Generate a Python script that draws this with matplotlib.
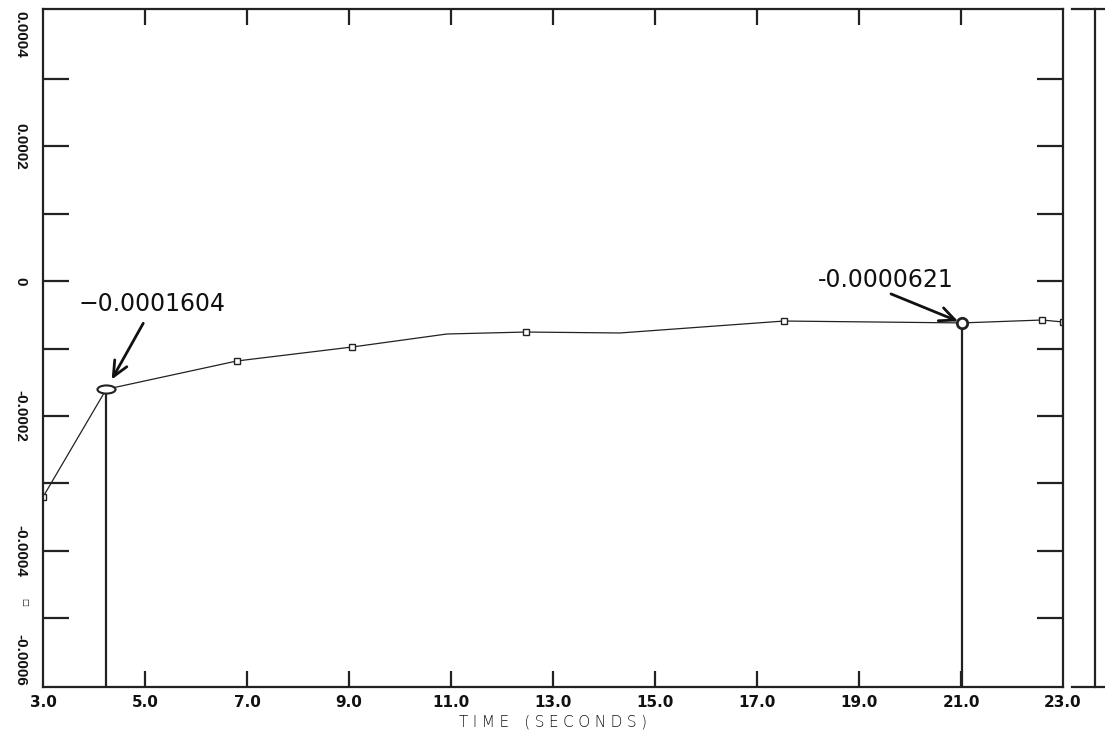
import matplotlib
matplotlib.use("Agg")
import matplotlib.pyplot as plt
from matplotlib.lines import Line2D
from matplotlib.markers import MarkerStyle
from matplotlib.path import Path
from matplotlib.transforms import Affine2D

# response samples over time
time_s = [3.0, 4.24, 6.80, 9.06, 10.92, 12.47, 14.31, 17.53, 21.02, 22.59, 23.0]
response = [-0.000320, -0.0001604, -0.0001185, -0.0000978, -0.0000785, -0.0000756,
            -0.000077, -0.0000593, -0.0000621, -0.0000578, -0.0000607]
marked = [0, 2, 3, 5, 7, 9, 10]      # samples drawn with a square symbol
picked = [1, 8]                       # cursor read-outs
picked_text = ["\u22120.0001604", "-0.0000621"]

x_ticks = [3, 5, 7, 9, 11, 13, 15, 17, 19, 21, 23]
x_tick_labels = ["3.0", "5.0", "7.0", "9.0", "11.0", "13.0", "15.0", "17.0", "19.0", "21.0", "23.0"]
y_ticks = [0.0004, 0.0003, 0.0002, 0.0001, 0.0, -0.0001, -0.0002, -0.0003, -0.0004, -0.0005, -0.0006]
y_tick_labels = ["0.0004", "", "0.0002", "", "0", "", "-0.0002", "", "-0.0004", "", "-0.0006"]

ink = "#222222"
W, H = 1105, 735
fig = plt.figure(figsize=(W / 100, H / 100), dpi=100)
ax = fig.add_axes([43 / W, 1 - 687 / H, (1063 - 43) / W, (687 - 9) / H])
ylo, yhi = -0.0006015, 0.000403
ax.set_xlim(3, 23)
ax.set_ylim(ylo, yhi)

for s in ax.spines.values():
    s.set_linewidth(1.6)
    s.set_color(ink)

# curve and its symbols
ax.plot(time_s, response, color=ink, lw=0.9)
ax.plot([time_s[i] for i in marked], [response[i] for i in marked], ls="none",
        marker="s", ms=4.5, mfc="white", mec=ink, mew=1.0)

# drop lines under the cursor points
ax.vlines([time_s[i] for i in picked], ylo, [response[i] for i in picked], color=ink, lw=1.6)

ellipse = MarkerStyle(Path.unit_circle().transformed(Affine2D().scale(1.0, 0.45)))
ax.plot(time_s[picked[0]], response[picked[0]], ls="none", marker=ellipse, ms=13,
        mfc="white", mec=ink, mew=1.5)
ax.plot(time_s[picked[1]], response[picked[1]], ls="none", marker="o", ms=7.5,
        mfc="white", mec=ink, mew=2.0)

# read-out labels with arrows
arrow_tail = [(37, 66), (-71, 29)]
text_pos = [(46, 85), (-76, 43)]
shrink = [8, 3]
for k, i in enumerate(picked):
    xy = (time_s[i], response[i])
    ax.annotate("", xy=xy, xytext=arrow_tail[k], textcoords="offset pixels",
                arrowprops=dict(arrowstyle="->,head_length=1.1,head_width=0.5",
                                color="#111111", lw=2.0, shrinkA=0, shrinkB=shrink[k],
                                mutation_scale=10))
    ax.annotate(picked_text[k], xy=xy, xytext=text_pos[k], textcoords="offset pixels",
                ha="center", va="center", fontsize=17, family="DejaVu Sans", color="#111111")

# ticks
ax.set_xticks(x_ticks)
ax.set_xticklabels(x_tick_labels, fontsize=11, fontweight="bold", family="DejaVu Sans", color="#111111")
ax.tick_params(axis="x", direction="in", length=11.5, width=1.6, color=ink,
               top=True, bottom=True, pad=6)
for t in ax.xaxis.get_major_ticks():
    if t.get_loc() in (3, 23):
        t.tick1line.set_visible(False)
        t.tick2line.set_visible(False)

ax.set_yticks(y_ticks)
ax.set_yticklabels(y_tick_labels, rotation=270, fontsize=11, fontweight="bold",
                   family="Liberation Sans", color="#111111", va="center")
ax.tick_params(axis="y", direction="in", length=18.5, width=1.6, color=ink,
               left=True, right=True, pad=11)
for t in ax.yaxis.get_major_ticks():
    if abs(t.get_loc()) > 0.00035 and t.get_loc() > 0 or t.get_loc() < -0.00055:
        t.tick1line.set_visible(False)
        t.tick2line.set_visible(False)
ylabels = ax.get_yticklabels()
ylabels[0].set_va("top")
ylabels[-1].set_va("bottom")

# little symbol beside the -0.0004 value
ax.text(-0.018, 0.125, "\u25a1", transform=ax.transAxes, rotation=270, fontsize=6,
        ha="center", va="center", color="#111111")

gap = "\u2009\u200a"
xlabel = gap.join("TIME") + "\u2003" + gap.join("(SECONDS)")
ax.set_xlabel(xlabel, fontsize=11, family="DejaVu Sans", fontweight="light",
              color="#111111", labelpad=3)

# frame of the neighbouring panel
for xs, ys in [((1072, 1105), (9, 9)), ((1072, 1105), (687, 687)), ((1095, 1095), (9, 687))]:
    fig.add_artist(Line2D([x / W for x in xs], [1 - y / H for y in ys],
                          transform=fig.transFigure, color=ink, lw=1.6))

fig.savefig("out.png", dpi=100)
